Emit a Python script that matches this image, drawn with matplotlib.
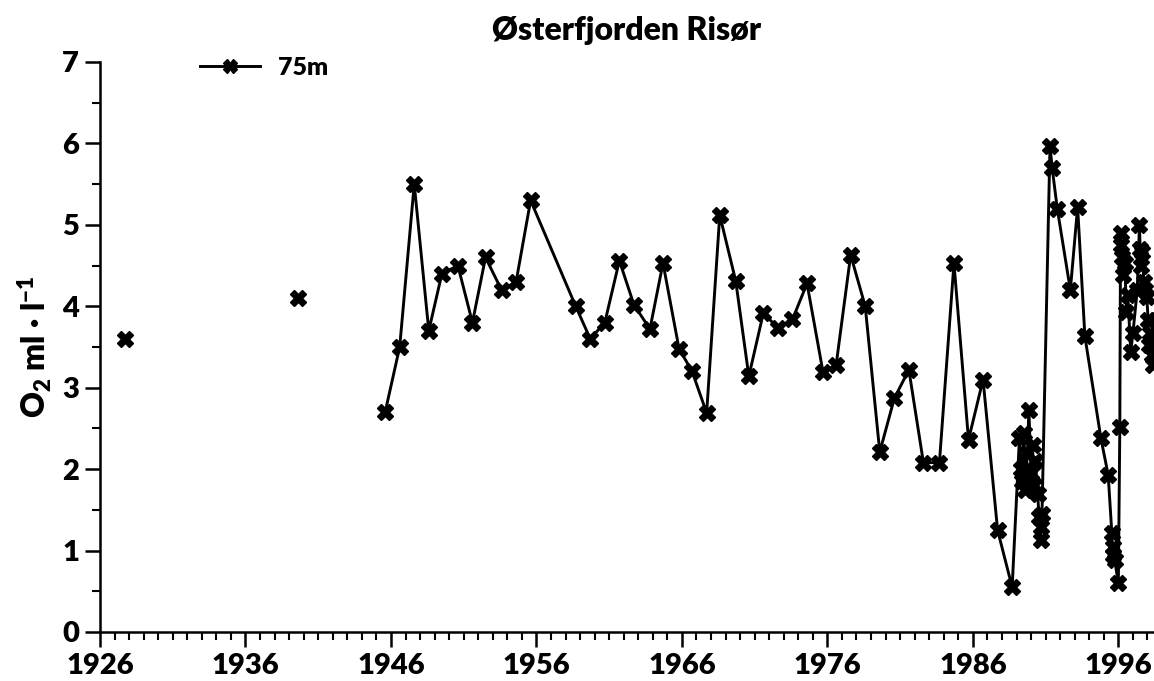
import numpy as np
import matplotlib.pyplot as plt
from matplotlib.ticker import MultipleLocator

plt.rcParams['font.family'] = ['Lato', 'DejaVu Sans']
plt.rcParams['font.weight'] = 'heavy'
plt.rcParams['axes.titleweight'] = 'heavy'
plt.rcParams['axes.labelweight'] = 'heavy'
plt.rcParams['mathtext.default'] = 'regular'

# early single samples, no line between them
early_years = [1927.7, 1939.6]
early_o2 = [3.6, 4.1]

# 75 m oxygen series from 1945 on
years = [1945.6, 1946.6, 1947.6, 1948.6, 1949.5, 1950.6, 1951.6, 1952.5, 1953.6,
         1954.6, 1955.6, 1958.7, 1959.7, 1960.7, 1961.7, 1962.7, 1963.8, 1964.7,
         1965.8, 1966.7, 1967.7, 1968.6, 1969.7, 1970.6, 1971.6, 1972.6, 1973.6,
         1974.6, 1975.7, 1976.6, 1977.6, 1978.6, 1979.6, 1980.6, 1981.6, 1982.6,
         1983.7, 1984.7, 1985.7, 1986.7, 1987.7, 1988.7,
         1989.2, 1989.3, 1989.4, 1989.5, 1989.6, 1989.75, 1989.85, 1990.0, 1990.1,
         1990.2, 1990.3, 1990.45, 1990.55, 1990.65, 1990.7, 1990.75,
         1991.3, 1991.45, 1991.8, 1992.7, 1993.2, 1993.7, 1994.8, 1995.3,
         1995.55, 1995.6, 1995.65, 1995.75, 1996.0, 1996.1,
         1996.15, 1996.2, 1996.25, 1996.35, 1996.45, 1996.55, 1996.65, 1996.85,
         1997.0, 1997.3, 1997.45, 1997.5, 1997.55, 1997.65, 1997.75, 1997.85,
         1997.95, 1998.05, 1998.1, 1998.2, 1998.3, 1998.35, 1998.6]
o2 = [2.7, 3.5, 5.5, 3.7, 4.4, 4.5, 3.8, 4.6, 4.2,
      4.3, 5.3, 4.0, 3.6, 3.8, 4.56, 4.02, 3.72, 4.53,
      3.48, 3.2, 2.69, 5.12, 4.31, 3.14, 3.92, 3.73, 3.84,
      4.28, 3.19, 3.28, 4.63, 4.0, 2.21, 2.87, 3.22, 2.08,
      2.08, 4.53, 2.36, 3.1, 1.25, 0.55,
      2.38, 2.0, 1.85, 2.45, 1.75, 2.2, 2.73, 1.95, 2.3,
      1.8, 2.1, 1.7, 1.41, 1.13, 1.29, 1.45,
      5.97, 5.7, 5.2, 4.2, 5.22, 3.63, 2.38, 1.93,
      1.22, 1.05, 0.95, 0.88, 0.6, 2.52,
      4.9, 4.75, 4.6, 4.38, 4.53, 3.93, 4.14, 3.44,
      3.67, 4.2, 5.0, 4.7, 4.5, 4.67, 4.3, 4.2,
      4.12, 3.83, 3.52, 3.67, 3.4, 3.28, 3.83]

year_ticks = [1926, 1936, 1946, 1956, 1966, 1976, 1986, 1996]

fig = plt.figure(figsize=(11.54, 6.81), dpi=100)
ax = fig.add_axes([100 / 1154, 1 - 632 / 681, 1054 / 1154, 570 / 681])

ax.plot(years, o2, label='75m', color='black', lw=2.1, marker='X', ms=12)
ax.plot(early_years, early_o2, ls='none', marker='X', ms=12, color='black')

ax.set_xlim(1926, 1998.45)
ax.set_ylim(0, 7)
ax.set_xticks(year_ticks)
ax.xaxis.set_minor_locator(MultipleLocator(1))
ax.yaxis.set_major_locator(MultipleLocator(1))
ax.yaxis.set_minor_locator(MultipleLocator(0.5))

for side in ['top', 'right']:
    ax.spines[side].set_visible(False)
for side in ['left', 'bottom']:
    ax.spines[side].set_linewidth(1.8)

ax.tick_params(which='major', direction='out', length=11, width=1.8,
               labelsize=21, pad=4)
ax.tick_params(which='minor', direction='out', length=6, width=1.5)

ax.set_ylabel('O$_2$ ml · l$^{-1}$', fontsize=23, fontweight='heavy',
              labelpad=6)
ax.set_title('Østerfjorden Risør', fontsize=23, fontweight='heavy', pad=16)

leg = ax.legend(loc='center left', bbox_to_anchor=(0.095, 0.99), frameon=False,
                fontsize=18, handlelength=2.4, handletextpad=0.7,
                borderpad=0, borderaxespad=0, markerscale=0.8)

fig.savefig('out.png', dpi=100)
